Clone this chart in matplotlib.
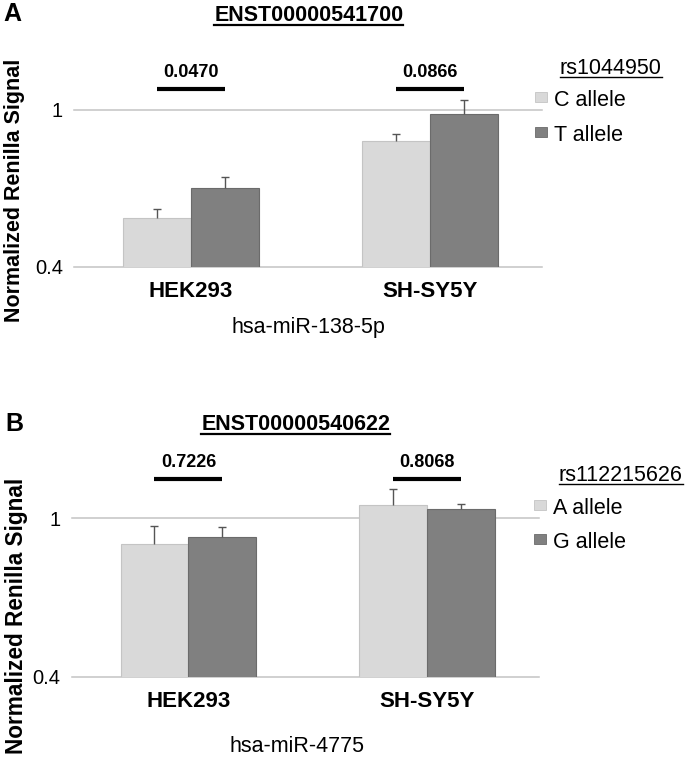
import matplotlib
matplotlib.use("Agg")
import matplotlib.pyplot as plt
from matplotlib.patches import Rectangle
from matplotlib.lines import Line2D
import numpy as np

plt.rcParams['font.family'] = ['Liberation Sans', 'DejaVu Sans']

# ---------------- data ----------------
cells = ['HEK293', 'SH-SY5Y']
yticks = [0.4, 1.0]
ytick_labels = ['0.4', '1']

a_title = 'ENST00000541700'
a_snp = 'rs1044950'
a_alleles = ['C allele', 'T allele']
a_mirna = 'hsa-miR-138-5p'
a_vals1 = [0.585, 0.880]
a_errs1 = [0.034, 0.025]
a_vals2 = [0.702, 0.982]
a_errs2 = [0.042, 0.054]
a_pvals = ['0.0470', '0.0866']

b_title = 'ENST00000540622'
b_snp = 'rs112215626'
b_alleles = ['A allele', 'G allele']
b_mirna = 'hsa-miR-4775'
b_vals1 = [0.902, 1.050]
b_errs1 = [0.069, 0.062]
b_vals2 = [0.928, 1.036]
b_errs2 = [0.040, 0.019]
b_pvals = ['0.7226', '0.8068']

ylabel = 'Normalized Renilla Signal'

# ---------------- style ----------------
W, H = 696, 760
LIGHT, LIGHT_EDGE = '#d9d9d9', '#c4c4c4'
DARK, DARK_EDGE = '#808080', '#6b6b6b'
GRID = '#c3c3c3'
ERR = '#555555'
BW = 0.285

fig = plt.figure(figsize=(W / 100, H / 100), dpi=100)


def fx(x):
    return x / W


def fy(y):
    return 1 - y / H


def hide_low_caps(container, vals):
    eb = container.errorbar
    if eb is None:
        return
    _, caplines, _ = eb.lines
    for cl in caplines:
        yd = np.asarray(cl.get_ydata(), dtype=float)
        if np.allclose(yd, np.asarray(vals, dtype=float)):
            cl.set_visible(False)


def panel(letter, title, snp, alleles, mirna, v1, e1, v2, e2, pvals, lay):
    left, width, base, ppu = lay['left'], lay['width'], lay['base'], lay['ppu']
    ylim = (0.4, 1.3)
    height = (ylim[1] - ylim[0]) * ppu
    ax = fig.add_axes([fx(left), fy(base), width / W, height / H])
    ax.set_xlim(-0.49, 1.47)
    ax.set_ylim(*ylim)
    for s in ax.spines.values():
        s.set_visible(False)
    for t in yticks:
        ax.axhline(t, color=GRID, lw=1.1, zorder=0.5, clip_on=False)
    x = list(range(len(cells)))
    ekw = dict(ecolor=ERR, elinewidth=1.0, capsize=2.6, capthick=1.0)
    c1 = ax.bar([i - BW / 2 for i in x], v1, BW, color=LIGHT, edgecolor=LIGHT_EDGE,
                linewidth=0.8, yerr=[[0] * len(e1), e1], error_kw=ekw, zorder=2)
    c2 = ax.bar([i + BW / 2 for i in x], v2, BW, color=DARK, edgecolor=DARK_EDGE,
                linewidth=0.8, yerr=[[0] * len(e2), e2], error_kw=ekw, zorder=2)
    hide_low_caps(c1, v1)
    hide_low_caps(c2, v2)
    ax.set_yticks(yticks)
    ax.set_yticklabels(ytick_labels)
    ax.tick_params(axis='y', length=0, pad=8, labelsize=14.5)
    ax.set_xticks(x)
    ax.set_xticklabels(cells, fontweight='bold')
    ax.tick_params(axis='x', length=0, pad=10, labelsize=16)
    for i, p in zip(x, pvals):
        ax.plot([i - BW / 2, i + BW / 2], [lay['sig']] * 2, color='black', lw=3,
                solid_capstyle='butt', clip_on=False, zorder=3)
        ax.annotate(p, xy=(i, lay['sig']), xytext=(0, 12), textcoords='offset points',
                    ha='center', va='center', fontsize=13, fontweight='bold')

    # texts
    fig.text(fx(lay['letter_x']), fy(lay['letter_y']), letter, fontsize=18,
             fontweight='bold', ha='center', va='center')
    t = fig.text(fx(lay['title_x']), fy(lay['title_base']), title, fontsize=15.5,
                 fontweight='bold', ha='center', va='baseline')
    fig.text(fx(lay['ylab_x']), fy(lay['ylab_y']), ylabel, rotation=90,
             fontsize=lay['ylab_size'], fontweight='bold', ha='center', va='center')
    fig.text(fx(lay['mir_x']), fy(lay['mir_y']), mirna, fontsize=15.5,
             ha='center', va='center')

    # legend (manual)
    lt = fig.text(fx(lay['leg_title_x']), fy(lay['leg_title_base']), snp,
                  fontsize=15.5, ha='left', va='baseline')
    for (col, ec), lab, yc in zip([(LIGHT, LIGHT_EDGE), (DARK, DARK_EDGE)],
                                  alleles, lay['leg_items_y']):
        fig.patches.append(Rectangle((fx(lay['sq_x']), fy(yc + 2.5)), 12 / W, 10 / H,
                                     transform=fig.transFigure, facecolor=col,
                                     edgecolor=ec, linewidth=0.6))
        fig.text(fx(lay['leg_text_x']), fy(yc + 6.3), lab, fontsize=15.5,
                 ha='left', va='baseline')
    return t, lt, lay


lay_a = dict(left=74, width=468, base=266.7, ppu=262, sig=1.079,
             letter_x=12.5, letter_y=14, title_x=308.8, title_base=20.8,
             ylab_x=15, ylab_y=190.5, ylab_size=15.5, mir_x=308, mir_y=328,
             leg_title_x=559.7, leg_title_base=74.2, sq_x=535,
             leg_text_x=554, leg_items_y=[99.3, 134.3])
lay_b = dict(left=71.7, width=467, base=676.7, ppu=264, sig=1.149,
             letter_x=14, letter_y=424, title_x=295.7, title_base=430.3,
             ylab_x=17, ylab_y=616, ylab_size=16.3, mir_x=297, mir_y=747,
             leg_title_x=558.7, leg_title_base=481, sq_x=534,
             leg_text_x=553, leg_items_y=[507.7, 541.7])

ta = panel('A', a_title, a_snp, a_alleles, a_mirna, a_vals1, a_errs1, a_vals2,
           a_errs2, a_pvals, lay_a)
tb = panel('B', b_title, b_snp, b_alleles, b_mirna, b_vals1, b_errs1, b_vals2,
           b_errs2, b_pvals, lay_b)

# underlines
fig.canvas.draw()
r = fig.canvas.get_renderer()
for title_t, leg_t, lay in (ta, tb):
    for txt, base, off, lw in ((title_t, lay['title_base'], 3.8, 1.6),
                               (leg_t, lay['leg_title_base'], 3.2, 1.0)):
        bb = txt.get_window_extent(r)
        yy = fy(base + off)
        fig.lines.append(Line2D([bb.x0 / W, bb.x1 / W], [yy, yy], color='black',
                                lw=lw, transform=fig.transFigure))

fig.savefig('out.png', dpi=100)
